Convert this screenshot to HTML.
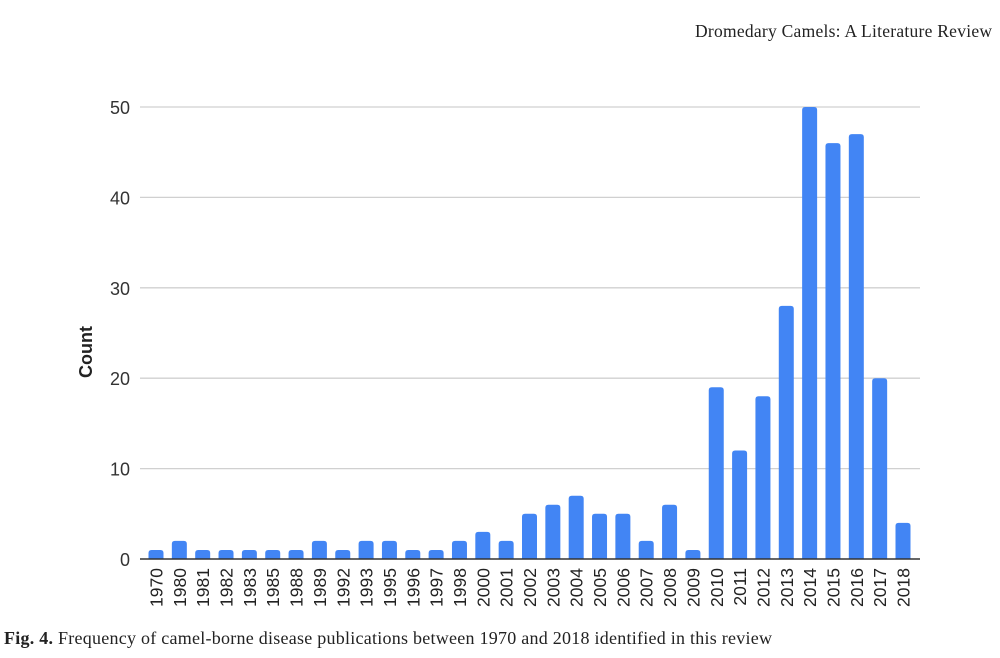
<!DOCTYPE html>
<html><head><meta charset="utf-8"><style>
body{margin:0;background:#fff;width:1000px;height:658px;overflow:hidden;}
svg{display:block}
</style></head><body>
<svg width="1000" height="658" id="c">
<text x="992" y="37" text-anchor="end" font-family="Liberation Serif, serif" font-size="17.5" fill="#222" textLength="297">Dromedary Camels: A Literature Review</text>
<text x="92" y="352" transform="rotate(-90 92 352)" text-anchor="middle" font-family="Liberation Sans, sans-serif" font-size="18" font-weight="bold" fill="#222">Count</text>
<text x="4" y="644" font-family="Liberation Serif, serif" font-size="18" fill="#222" textLength="768"><tspan font-weight="bold">Fig. 4.</tspan>  Frequency of camel-borne disease publications between 1970 and 2018 identified in this review</text>
<g id="grid"></g><g id="bars"></g><g id="xl"></g>
</svg>
<script>
const categories=["1970","1980","1981","1982","1983","1985","1988","1989","1992","1993","1995","1996","1997","1998","2000","2001","2002","2003","2004","2005","2006","2007","2008","2009","2010","2011","2012","2013","2014","2015","2016","2017","2018"];
const counts=[1,2,1,1,1,1,1,2,1,2,2,1,1,2,3,2,5,6,7,5,5,2,6,1,19,12,18,28,50,46,47,20,4];
const yTicks=[0,10,20,30,40,50];
const NS="http://www.w3.org/2000/svg";
const y0=559,yTop=107,yMax=50,x0=140,x1=920;
const step=(903-156)/(categories.length-1);
function y(v){return y0-(v/yMax)*(y0-yTop);}
function x(i){return 156+i*step;}
function mk(t,a,p){const e=document.createElementNS(NS,t);for(const k in a)e.setAttribute(k,a[k]);document.getElementById(p).appendChild(e);return e;}
yTicks.forEach(t=>{
  if(t>0){const l=mk('line',{x1:x0,x2:x1,y1:y(t),y2:y(t),stroke:'#d0d0d0','stroke-width':1.3},'grid');
  
  }
  const tx=mk('text',{x:130,y:y(t)+7,'text-anchor':'end','font-family':'Liberation Sans, sans-serif','font-size':18,fill:'#333'},'grid');
  tx.textContent=t;
  
  
});
counts.forEach((v,i)=>{
  const r=mk('path',{d:`M${x(i)-7.5},${y0} V${y(v)+3} Q${x(i)-7.5},${y(v)} ${x(i)-4.5},${y(v)} H${x(i)+4.5} Q${x(i)+7.5},${y(v)} ${x(i)+7.5},${y(v)+3} V${y0} Z`,fill:'#4285f4'},'bars');
  
  
  const t=mk('text',{x:0,y:0,transform:`translate(${x(i)+6.5},${y0+9}) rotate(-90)`,'text-anchor':'end','font-family':'Liberation Sans, sans-serif','font-size':17.5,fill:'#222'},'xl');
  t.textContent=categories[i];
  
  
});
const ax=mk('line',{x1:x0,x2:x1,y1:y0,y2:y0,stroke:'#333','stroke-width':1.6},'xl');


</script>
</body></html>
